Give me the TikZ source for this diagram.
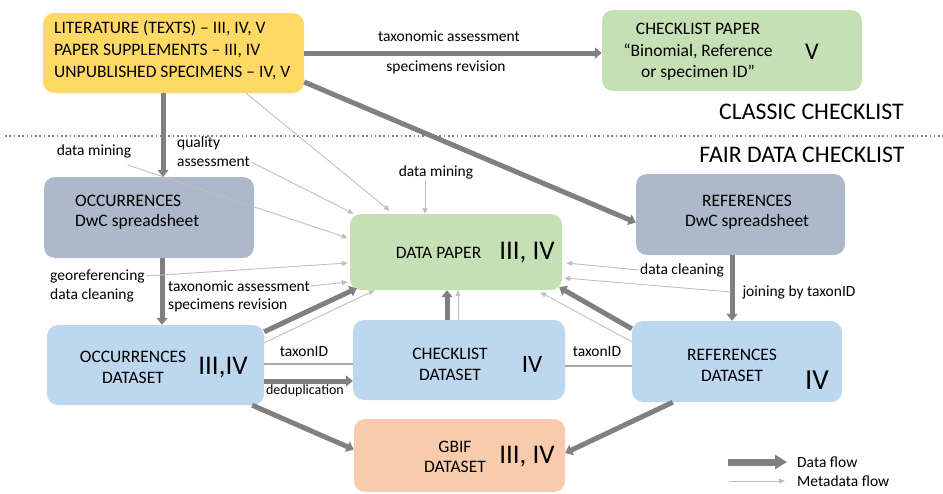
\documentclass[tikz,border=0pt]{standalone}
\usepackage{fontspec}
\setmainfont{Carlito}
\usetikzlibrary{arrows.meta,calc}
\definecolor{thickc}{HTML}{808080}
\definecolor{thinc}{HTML}{BFBFBF}
\definecolor{linkc}{HTML}{A6A6A6}
\definecolor{yellowc}{HTML}{FFD966}
\definecolor{greenc}{HTML}{C5E0B4}
\definecolor{slatec}{HTML}{ADB9CA}
\definecolor{bluec}{HTML}{BDD7EE}
\definecolor{orangec}{HTML}{F8CBAD}
\begin{document}
\begin{tikzpicture}[x=1pt,y=-1pt,
  box/.style={rounded corners=11pt, inner sep=0pt, draw=none},
  txt/.style={inner sep=0pt, font=\fontsize{17.5}{21}\selectfont, align=center},
  lbl/.style={inner sep=1pt, font=\fontsize{15.5}{18}\selectfont},
  big/.style={inner sep=0pt, font=\fontsize{27}{30}\selectfont},
  head/.style={inner sep=0pt, font=\fontsize{23.8}{26}\selectfont},
  dataflow/.style={draw=thickc, line width=5pt, -{Triangle[length=7pt,width=11pt]}},
  metaflow/.style={draw=thinc, line width=0.9pt, -{Triangle[length=6pt,width=5pt]}},
  link/.style={draw=linkc, line width=1.8pt},
]
\useasboundingbox (0,0) rectangle (943,493);

% ---- boxes ----
\node[box, fill=yellowc, minimum width=261pt, minimum height=80pt] (lit) at (173.5,53) {};
\node[box, fill=greenc, minimum width=260pt, minimum height=81pt] (cpaper) at (732,50.5) {};
\node[box, fill=slatec, minimum width=210pt, minimum height=81pt] (occs) at (149,217.5) {};
\node[box, fill=slatec, minimum width=209pt, minimum height=81pt] (refs) at (740.5,214.5) {};
\node[box, fill=greenc, minimum width=212pt, minimum height=76pt] (dpaper) at (456,252) {};
\node[box, fill=bluec, minimum width=217pt, minimum height=80pt] (occd) at (155.5,365) {};
\node[box, fill=bluec, minimum width=212pt, minimum height=80pt] (chkd) at (459,360) {};
\node[box, fill=bluec, minimum width=210pt, minimum height=81pt] (refd) at (737,361.5) {};
\node[box, fill=orangec, minimum width=211pt, minimum height=73pt] (gbif) at (459.5,455.5) {};

% ---- box texts ----
\node[txt, anchor=west, align=left, font=\fontsize{17.5}{22}\selectfont] (littext) at (54,50)
  {LITERATURE (TEXTS) – III, IV, V\\PAPER SUPPLEMENTS – III, IV\\UNPUBLISHED SPECIMENS – IV, V};
\node[txt, font=\fontsize{17.5}{21.5}\selectfont] (cptext) at (698,52)
  {CHECKLIST PAPER\\“Binomial, Reference\\or specimen ID”};
\node[big, font=\fontsize{24}{26}\selectfont] (cpnum) at (812,52) {V};
\node[txt, anchor=west, align=left, font=\fontsize{17.5}{20}\selectfont] (occstext) at (75,212)
  {OCCURRENCES\\DwC spreadsheet};
\node[txt, font=\fontsize{17.5}{20}\selectfont] (refstext) at (747,212)
  {REFERENCES\\DwC spreadsheet};
\node[txt] (dptext) at (438.5,253) {DATA PAPER};
\node[big] (dpnum) at (527,253) {III, IV};
\node[txt] (occdtext) at (133,367.5) {OCCURRENCES\\DATASET};
\node[big] (occdnum) at (223,368) {III,IV};
\node[txt] (chkdtext) at (450,364.5) {CHECKLIST\\DATASET};
\node[big, font=\fontsize{25}{28}\selectfont] (chkdnum) at (532,364) {IV};
\node[txt] (refdtext) at (732,365.5) {REFERENCES\\DATASET};
\node[big, font=\fontsize{29}{32}\selectfont] (refdnum) at (817,380) {IV};
\node[txt, font=\fontsize{17.5}{20}\selectfont] (gbiftext) at (455,457) {GBIF\\DATASET};
\node[big] (gbifnum) at (527,457) {III, IV};

% ---- section headings ----
\node[head] (classic) at (811.5,112) {CLASSIC CHECKLIST};
\node[head] (fair) at (802,155) {FAIR DATA CHECKLIST};
\coordinate (dotl) at (5,136);
\coordinate (dotr) at (943,136);
\draw[thickc, line width=1.6pt, dash pattern=on 1.6pt off 2.7pt] (dotl) -- (dotr);

% ---- labels ----
\node[lbl] (tax1) at (449,36) {taxonomic assessment};
\node[lbl] (spec1) at (446,67) {specimens revision};
\node[lbl] (dm1) at (94,151) {data mining};
\node[lbl, anchor=west] (qa1) at (176,143) {quality};
\node[lbl, anchor=west] (qa2) at (176,162) {assessment};
\node[lbl] (dm2) at (436,172) {data mining};
\node[lbl, anchor=west] (geo1) at (49,276) {georeferencing};
\node[lbl, anchor=west] (geo2) at (49,295) {data cleaning};
\node[lbl, anchor=west] (tax2) at (167,286) {taxonomic assessment};
\node[lbl, anchor=west] (spec2) at (167,305) {specimens revision};
\node[lbl] (dcr) at (682,270) {data cleaning};
\node[lbl] (join) at (799,292) {joining by taxonID};
\node[lbl] (tid1) at (304,352) {taxonID};
\node[lbl, font=\fontsize{14}{16}\selectfont] (dedup) at (305,391) {deduplication};
\node[lbl] (tid2) at (597,352) {taxonID};

% ---- data flow (thick) ----
\draw[dataflow] (lit.east) -- (lit.east -| cpaper.west);
\draw[dataflow] ([yshift=-29pt]lit.east) -- ([yshift=-8pt]refs.west);
\draw[dataflow] ([xshift=-10.5pt]lit.south) coordinate (p1) -- (p1 |- occs.north);
\draw[dataflow] ([xshift=13pt]occs.south) coordinate (p2) -- (p2 |- occd.north);
\draw[dataflow] ([yshift=-7pt]occd.north east) -- ([shift={(7pt,2pt)}]dpaper.south west);
\draw[dataflow] ([yshift=-16pt]occd.east) coordinate (p3) -- (p3 -| chkd.west);
\draw[dataflow] ([xshift=-12pt]chkd.north) coordinate (p4) -- (p4 |- dpaper.south);
\draw[dataflow] ([yshift=-8pt]refd.north west) -- ([shift={(-3pt,3pt)}]dpaper.south east);
\draw[dataflow] ([xshift=-8.5pt]refs.south) coordinate (p5) -- (p5 |- refd.north);
\draw[dataflow] ([xshift=-12pt]occd.south east) -- ([yshift=6pt]gbif.west);
\draw[dataflow] ([xshift=41pt]refd.south west) -- ([yshift=2.5pt]gbif.east);

% ---- metadata flow (thin) ----
\draw[metaflow] ([shift={(-5pt,-6pt)}]dm1.south east) -- ([shift={(-2pt,14pt)}]dpaper.west);
\draw[metaflow] (qa2.east) -- ([xshift=4pt]dpaper.north west);
\draw[metaflow] ([xshift=72.5pt]lit.south) -- ([shift={(40pt,3pt)}]dpaper.north west);
\draw[metaflow] ([xshift=-11pt]dm2.south) coordinate (p6) -- (p6 |- dpaper.north);
\draw[metaflow] (geo1.east) -- ([shift={(-2pt,-11pt)}]dpaper.west);
\draw[metaflow] (tax2.east) -- ([shift={(-2pt,-30pt)}]dpaper.west);
\draw[metaflow] ([yshift=-18pt]occd.north east) -- ([xshift=25pt]dpaper.south west);
\draw[metaflow] ([xshift=-1pt]chkd.north) coordinate (p7) -- (p7 |- dpaper.south);
\draw[metaflow] (dcr.west) -- ([shift={(4pt,-11pt)}]dpaper.east);
\draw[metaflow] ([xshift=-10pt]join.west) -- ([shift={(2pt,-26pt)}]dpaper.east);
\draw[metaflow] ([yshift=-21pt]refd.north west) -- ([shift={(-22pt,-2pt)}]dpaper.south east);

% ---- taxonID links ----
\draw[link] ([yshift=1pt]occd.east) coordinate (p8) -- (p8 -| chkd.west);
\draw[link] ([yshift=-6pt]chkd.east) coordinate (p9) -- (p9 -| refd.west);

% ---- legend ----
\node[lbl, anchor=west] (lgdata) at (796,462) {Data flow};
\node[lbl, anchor=west] (lgmeta) at (796,481) {Metadata flow};
\coordinate (lgs1) at (728,462);
\coordinate (lgs2) at (729,481);
\draw[draw=thickc, line width=7pt, -{Triangle[length=12pt,width=14pt]}] (lgs1) -- (lgs1 -| {$(lgdata.west)+(-9pt,0)$});
\draw[metaflow] (lgs2) -- (lgs2 -| {$(lgmeta.west)+(-11pt,0)$});
\end{tikzpicture}
\end{document}
